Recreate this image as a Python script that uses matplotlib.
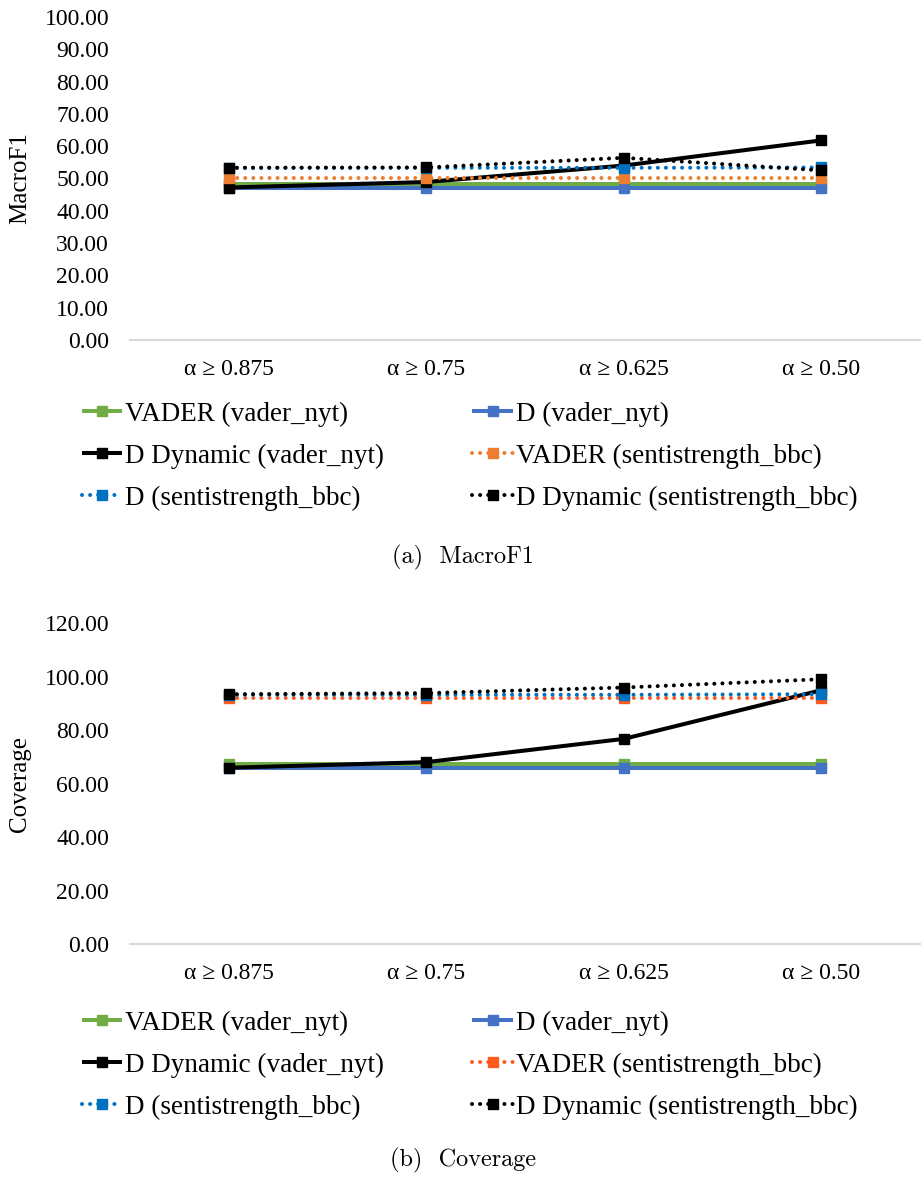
import matplotlib
matplotlib.use("Agg")
import matplotlib.pyplot as plt

plt.rcParams['font.family'] = ['Liberation Serif', 'DejaVu Serif']

categories = ['α ≥ 0.875', 'α ≥ 0.75', 'α ≥ 0.625', 'α ≥ 0.50']
labels = ['VADER (vader_nyt)', 'D (vader_nyt)', 'D Dynamic (vader_nyt)',
          'VADER (sentistrength_bbc)', 'D (sentistrength_bbc)',
          'D Dynamic (sentistrength_bbc)']

# MacroF1
f1_vader_nyt = [48.4, 48.4, 48.4, 48.4]
f1_d_nyt = [47.2, 47.2, 47.2, 47.2]
f1_dyn_nyt = [47.2, 48.9, 54.0, 61.8]
f1_vader_bbc = [50.0, 50.0, 50.0, 50.0]
f1_d_bbc = [53.3, 53.3, 53.3, 53.4]
f1_dyn_bbc = [53.3, 53.4, 56.4, 52.5]

# Coverage
cov_vader_nyt = [67.2, 67.2, 67.2, 67.2]
cov_d_nyt = [65.9, 65.9, 65.9, 65.9]
cov_dyn_nyt = [65.9, 68.0, 76.7, 94.9]
cov_vader_bbc = [92.0, 92.0, 92.0, 92.0]
cov_d_bbc = [93.2, 93.2, 93.2, 93.4]
cov_dyn_bbc = [93.4, 93.8, 95.9, 99.0]

dot = (0, (0.01, 2.0))
styles_top = [
    dict(color='#70AD47', ls='-'),
    dict(color='#4472C4', ls='-'),
    dict(color='black', ls='-'),
    dict(color='#ED7D31', ls=dot),
    dict(color='#0070C0', ls=dot),
    dict(color='black', ls=dot),
]
styles_bot = [dict(s) for s in styles_top]
styles_bot[3]['color'] = '#FF5B1F'

fig = plt.figure(figsize=(9.21, 11.78), dpi=100)
ax1 = fig.add_axes([0.1411, 0.7114, 0.858, 0.2742])
ax2 = fig.add_axes([0.1411, 0.1986, 0.858, 0.2725])

x = range(len(categories))


def draw(ax, series, styles, yticks, ylabel):
    handles = []
    for vals, st, lab in zip(series, styles, labels):
        h, = ax.plot(x, vals, color=st['color'], linestyle=st['ls'], lw=2.9,
                     marker='s', markersize=6.5, dash_capstyle='round',
                     solid_capstyle='butt', label=lab)
        handles.append(h)
    ax.set_xlim(-0.5, 3.5)
    ax.set_ylim(yticks[0], yticks[-1])
    ax.set_yticks(yticks)
    ax.set_yticklabels([f'{v:.2f}' for v in yticks], fontsize=17)
    ax.set_xticks(list(x))
    ax.set_xticklabels(categories, fontsize=17)
    ax.tick_params(length=0, pad=14)
    ax.tick_params(axis='y', pad=15)
    for s in ['top', 'right', 'left']:
        ax.spines[s].set_visible(False)
    ax.spines['bottom'].set_color('#D9D9D9')
    ax.spines['bottom'].set_linewidth(1.5)
    ax.set_ylabel(ylabel, fontsize=18)
    ax.yaxis.set_label_coords(-0.125, 0.5)
    return handles


h1 = draw(ax1, [f1_vader_nyt, f1_d_nyt, f1_dyn_nyt, f1_vader_bbc, f1_d_bbc, f1_dyn_bbc],
          styles_top, list(range(0, 101, 10)), 'MacroF1')
h2 = draw(ax2, [cov_vader_nyt, cov_d_nyt, cov_dyn_nyt, cov_vader_bbc, cov_d_bbc, cov_dyn_bbc],
          styles_bot, list(range(0, 121, 20)), 'Coverage')

order = [0, 2, 4, 1, 3, 5]
for hs, ytop in [(h1, 0.6705), (h2, 0.1535)]:
    fig.legend([hs[i] for i in order], [labels[i] for i in order],
               loc='upper left', bbox_to_anchor=(0.074, ytop), ncol=2,
               frameon=False, fontsize=19.5, handlelength=1.5, handletextpad=0.1,
               columnspacing=3.26, labelspacing=0.62, borderpad=0)

fig.text(0.503, 1 - 557 / 1178, '(a)  MacroF1', family='cmr10', fontsize=17.5,
         ha='center', va='center')
fig.text(0.503, 1 - 1160 / 1178, '(b)  Coverage', family='cmr10', fontsize=17.5,
         ha='center', va='center')

fig.savefig('out.png', dpi=100)
